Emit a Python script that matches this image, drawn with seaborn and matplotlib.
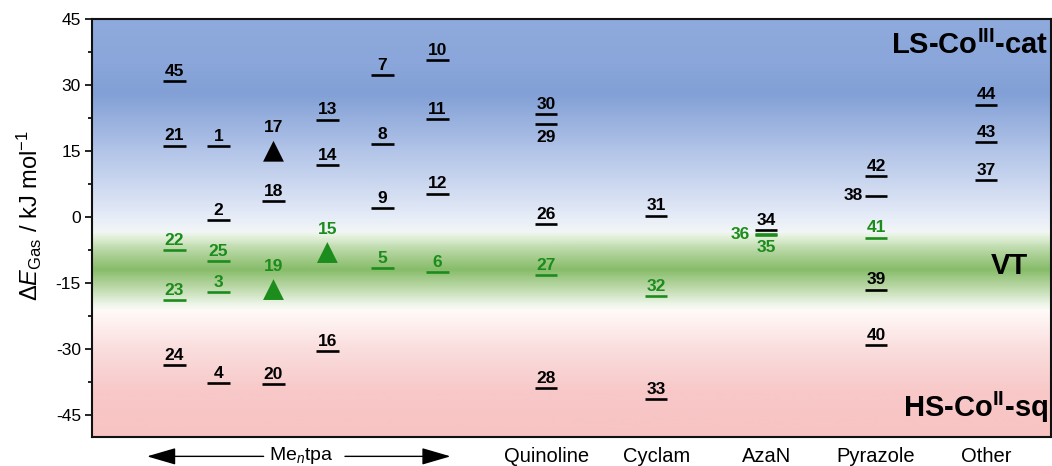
import numpy as np
import pandas as pd
import seaborn as sns
import matplotlib.pyplot as plt
from matplotlib.colors import LinearSegmentedColormap

# Chart data: complex number, ligand column, gas-phase energy (kJ/mol), VT or not, computed level vs triangle
complex_id = [45, 21, 22, 23, 24,
              1, 2, 25, 3, 4,
              17, 18, 19, 20,
              13, 14, 15, 16,
              7, 8, 9, 5,
              10, 11, 12, 6,
              30, 29, 26, 27, 28,
              31, 32, 33,
              34, 36, 35,
              42, 38, 41, 39, 40,
              44, 43, 37]
column = (['tpa1'] * 5 + ['tpa2'] * 5 + ['tpa3'] * 4 + ['tpa4'] * 4 + ['tpa5'] * 4 + ['tpa6'] * 4
          + ['Quinoline'] * 5 + ['Cyclam'] * 3 + ['AzaN'] * 3 + ['Pyrazole'] * 5 + ['Other'] * 3)
energy = [30.8, 16.2, -7.6, -18.9, -33.6,
          16.1, -0.8, -10.0, -17.0, -37.7,
          14.9, 3.6, -16.5, -38.0,
          22.1, 11.8, -8.1, -30.4,
          32.1, 16.5, 2.1, -11.7,
          35.7, 22.3, 5.3, -12.5,
          23.3, 21.0, -1.6, -13.3, -38.9,
          0.3, -17.9, -41.4,
          -3.0, -4.0, -4.1,
          9.3, 4.8, -4.7, -16.5, -29.2,
          25.5, 17.0, 8.4]
vt_ids = [22, 23, 25, 3, 19, 15, 5, 6, 27, 32, 36, 35, 41]
triangle_ids = [17, 19, 15]

categories = ['Quinoline', 'Cyclam', 'AzaN', 'Pyrazole', 'Other']
yticks = [-45, -30, -15, 0, 15, 30, 45]

# layout only
col_x = {'tpa1': 0.62, 'tpa2': 1.02, 'tpa3': 1.52, 'tpa4': 2.01, 'tpa5': 2.51, 'tpa6': 3.01,
         'Quinoline': 4, 'Cyclam': 5, 'AzaN': 6, 'Pyrazole': 7, 'Other': 8}
label_below = [29, 35]
label_left = {36: -11.5, 38: -9.5}

green = '#1c8c1c'

df = pd.DataFrame({'id': complex_id, 'column': column, 'E': energy})
df['x'] = df['column'].map(col_x)
df['state'] = np.where(df['id'].isin(vt_ids), 'VT', 'other')
df['tri'] = df['id'].isin(triangle_ids)
palette = {'VT': green, 'other': 'black'}

sns.set_style('ticks')
plt.rcParams['font.family'] = ['Liberation Sans', 'DejaVu Sans']
plt.rcParams['mathtext.fontset'] = 'custom'
plt.rcParams['mathtext.rm'] = 'Liberation Sans'
plt.rcParams['mathtext.it'] = 'Liberation Sans:italic'
plt.rcParams['mathtext.bf'] = 'Liberation Sans:bold'
plt.rcParams['axes.unicode_minus'] = False
for k in ['text.color', 'axes.labelcolor', 'xtick.color', 'ytick.color', 'axes.edgecolor']:
    plt.rcParams[k] = 'black'

fig = plt.figure(figsize=(10.52, 4.66), dpi=100)
ax = fig.add_axes([0.0875, 0.062, 0.9115, 0.898])
xlim = (-0.13, 8.59)
ylim = (-50, 45)

# background gradient (blue -> white -> green -> white -> pink)
stops = [(-50, (248, 195, 195)), (-40, (248, 200, 200)), (-30, (250, 222, 222)),
         (-21.5, (255, 250, 248)), (-20, (238, 246, 234)), (-16, (185, 215, 165)),
         (-12, (135, 188, 105)), (-8, (180, 213, 160)), (-4.5, (228, 241, 220)),
         (-3.5, (242, 246, 246)), (0, (230, 236, 248)), (5, (212, 222, 242)),
         (15, (178, 196, 232)), (28, (130, 160, 214)), (35, (138, 166, 218)), (45, (143, 170, 220))]
cmap = LinearSegmentedColormap.from_list(
    'bg', [((v - ylim[0]) / (ylim[1] - ylim[0]), np.array(c) / 255) for v, c in stops])
grad = np.linspace(0, 1, 500).reshape(-1, 1)
ax.imshow(grad, extent=[xlim[0], xlim[1], ylim[0], ylim[1]], origin='lower',
          aspect='auto', cmap=cmap, zorder=0, interpolation='bilinear')

levels = df[~df['tri']]
tris = df[df['tri']]
sns.scatterplot(data=levels, x='x', y='E', hue='state', palette=palette, marker='_',
                s=260, linewidth=1.9, legend=False, ax=ax, zorder=3)
sns.scatterplot(data=tris, x='x', y='E', hue='state', palette=palette, marker='^',
                s=225, edgecolor='none', legend=False, ax=ax, zorder=3)

fs_num = 12.5
for _, r in df.iterrows():
    c = palette[r['state']]
    lab = str(r['id'])
    if r['id'] in label_left:
        ax.annotate(lab, (r['x'], r['E']), xytext=(label_left[r['id']], 0), textcoords='offset points',
                    ha='right', va='center', fontsize=fs_num, fontweight='bold', color=c)
    elif r['id'] in label_below:
        ax.annotate(lab, (r['x'], r['E']), xytext=(0, -4), textcoords='offset points',
                    ha='center', va='top', fontsize=fs_num, fontweight='bold', color=c)
    elif r['tri']:
        ax.annotate(lab, (r['x'], r['E']), xytext=(0, 11.5), textcoords='offset points',
                    ha='center', va='bottom', fontsize=fs_num, fontweight='bold', color=c)
    else:
        ax.annotate(lab, (r['x'], r['E']), xytext=(0, 1.5), textcoords='offset points',
                    ha='center', va='bottom', fontsize=fs_num, fontweight='bold', color=c)

# region labels
ax.text(0.997, 38.9, r'LS-Co$^{\mathbf{III}}$-cat', transform=ax.get_yaxis_transform(),
        ha='right', va='center', fontsize=21, fontweight='bold')
ax.text(0.976, -11.2, 'VT', transform=ax.get_yaxis_transform(),
        ha='right', va='center', fontsize=21, fontweight='bold')
ax.text(0.997, -43.3, r'HS-Co$^{\mathbf{II}}$-sq', transform=ax.get_yaxis_transform(),
        ha='right', va='center', fontsize=21, fontweight='bold')

ax.set_xlim(*xlim)
ax.set_ylim(*ylim)
ax.set_xticks([col_x[c] for c in categories])
ax.set_xticklabels(categories, fontsize=14.5)
ax.tick_params(axis='x', length=0, pad=7)
ax.set_yticks(yticks)
ax.set_yticks(np.arange(-52.5, 45, 15)[1:], minor=True)
ax.tick_params(axis='y', which='major', length=5, width=1.2, labelsize=12.5, direction='out', pad=3)
ax.tick_params(axis='y', which='minor', length=3, width=1.2, direction='out')
ax.set_xlabel('')
ax.set_ylabel(r'$\Delta E_{\mathrm{Gas}}$ / kJ mol$^{-1}$', fontsize=17)
ax.yaxis.set_label_coords(-0.05, 0.53)
for s in ax.spines.values():
    s.set_linewidth(1.5)
    s.set_color('#111111')
    s.set_visible(True)

# Me_ntpa arrow label under the first six columns
tr = ax.get_xaxis_transform()
ax.text(1.77, -0.044, r'Me$_{n}$tpa', transform=tr, ha='center', va='center', fontsize=14)
arrow = dict(arrowstyle='-|>,head_length=1.2,head_width=0.35', mutation_scale=15,
             lw=1, color='black', shrinkA=0, shrinkB=0)
ax.annotate('', xy=(0.37, -0.046), xytext=(1.43, -0.046), xycoords=tr, textcoords=tr,
            arrowprops=arrow, annotation_clip=False)
ax.annotate('', xy=(3.13, -0.046), xytext=(2.17, -0.046), xycoords=tr, textcoords=tr,
            arrowprops=arrow, annotation_clip=False)

fig.savefig('out.png', dpi=100)
